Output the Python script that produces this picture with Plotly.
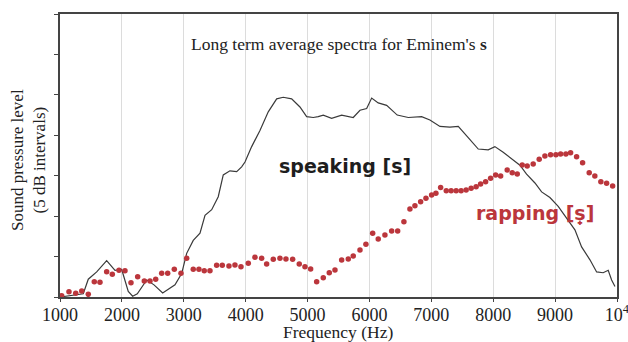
import plotly.graph_objects as go

# Long-term average spectrum of the /s/ sound, speaking vs rapping (dB, 5 dB per tick)
speaking_freq = [1000, 1376, 1457, 1593, 1754, 1889, 1997, 2103, 2174, 2249, 2401, 2519,
                 2659, 2858, 2966, 3047, 3153, 3262, 3343, 3451, 3557, 3638, 3746, 3855,
                 3935, 3989, 4097, 4231, 4365, 4501, 4607, 4743, 4877, 4985, 5092, 5173,
                 5254, 5389, 5551, 5738, 5847, 5955, 6036, 6142, 6278, 6449, 6627, 6843,
                 6977, 7139, 7300, 7435, 7596, 7758, 7919, 8027, 8161, 8270, 8350, 8431,
                 8539, 8674, 8782, 8916, 9050, 9186, 9320, 9428, 9563, 9671, 9777, 9858,
                 9913, 9967]
speaking_db = [0.0, 0.4, 2.2, 3.1, 4.5, 3.3, 3.4, 0.7, 0.1, 0.4, 2.1, 1.5,
               0.5, 1.5, 2.9, 5.4, 7.0, 7.9, 10.1, 10.8, 12.4, 15.1, 15.6, 15.5,
               16.1, 16.7, 18.6, 20.6, 22.9, 24.5, 24.7, 24.5, 23.5, 22.3, 22.2, 22.3,
               22.5, 22.1, 22.5, 22.2, 23.1, 23.3, 24.6, 24.0, 23.7, 22.5, 22.2, 22.3,
               21.9, 21.1, 21.0, 21.1, 19.7, 18.3, 18.2, 18.6, 17.9, 17.3, 16.8, 16.3,
               15.2, 14.1, 13.0, 12.3, 11.2, 9.7, 8.3, 6.2, 4.6, 3.1, 3.0, 3.3,
               2.1, 1.3]

rapping_freq = [1027, 1145, 1254, 1351, 1457, 1554, 1646, 1754, 1845, 1953, 2050, 2147,
                2255, 2362, 2454, 2546, 2643, 2740, 2847, 2955, 3047, 3153, 3245, 3331,
                3423, 3531, 3622, 3730, 3827, 3924, 4042, 4150, 4258, 4339, 4446, 4554,
                4651, 4759, 4866, 4958, 5050, 5147, 5254, 5351, 5443, 5551, 5658, 5738,
                5847, 5943, 6052, 6142, 6250, 6359, 6456, 6557, 6654, 6735, 6827, 6913,
                7005, 7074, 7150, 7241, 7320, 7401, 7481, 7562, 7643, 7724, 7796, 7877,
                7958, 8039, 8120, 8226, 8307, 8388, 8468, 8549, 8646, 8743, 8835, 8927,
                9013, 9089, 9174, 9250, 9347, 9444, 9551, 9642, 9739, 9832, 9929]
rapping_db = [0.16, 0.66, 0.46, 0.74, 0.33, 1.89, 1.82, 3.13, 2.81, 3.30, 3.25, 1.77,
              2.51, 1.98, 1.98, 2.19, 2.93, 2.93, 3.43, 2.93, 4.79, 3.43, 3.43, 3.25,
              3.25, 3.92, 3.92, 3.83, 3.96, 3.75, 4.17, 4.91, 4.79, 4.08, 4.66, 4.79,
              4.70, 4.66, 4.08, 3.75, 3.46, 1.89, 2.39, 3.01, 3.34, 4.58, 4.70, 5.07,
              5.81, 6.52, 7.88, 7.17, 7.67, 8.16, 8.16, 9.31, 10.88, 11.29, 11.79, 12.21,
              12.61, 12.82, 13.54, 13.13, 13.13, 13.13, 13.13, 13.23, 13.44, 13.64, 13.97, 14.26,
              14.68, 15.09, 14.96, 15.71, 15.37, 15.21, 16.32, 16.20, 16.45, 17.03, 17.44, 17.60,
              17.60, 17.68, 17.68, 17.85, 17.35, 16.61, 15.37, 14.96, 14.26, 14.06, 13.73]

x_ticks = [1000, 2000, 3000, 4000, 5000, 6000, 7000, 8000, 9000, 10000]
x_tick_text = ["1000", "2000", "3000", "4000", "5000", "6000", "7000", "8000", "9000",
               "10<sup>4</sup>"]
y_ticks = [0, 5, 10, 15, 20, 25, 30, 35]

SERIF = "Liberation Serif, Times New Roman, serif"
SANS = "DejaVu Sans, sans-serif"
RED = "#bb363c"

# plot area in pixels: x 60..617, y 14..297
L, R, T, B = 60, 617, 14, 297
W, H = R - L, B - T


def px(x):
    return (x - L) / W


def py(y):
    return (B - y) / H


fig = go.Figure()
fig.add_trace(go.Scatter(x=speaking_freq, y=speaking_db, mode="lines",
                         line=dict(color="#3a3a3a", width=1.2), showlegend=False))
fig.add_trace(go.Scatter(x=rapping_freq, y=rapping_db, mode="markers",
                         marker=dict(color=RED, size=5.5, line=dict(width=0)),
                         showlegend=False))

fig.update_layout(
    width=628, height=342,
    margin=dict(l=L, r=628 - R, t=T, b=342 - B),
    paper_bgcolor="white", plot_bgcolor="white",
    font=dict(family=SERIF, color="#222"),
    xaxis=dict(range=[1000, 10000], tickvals=x_ticks, ticktext=x_tick_text,
               automargin=False, ticklabeloverflow="allow", ticklabelstandoff=-3,
               showgrid=True, gridcolor="#dcdcdc", gridwidth=1,
               showline=True, mirror=True, linecolor="#444", linewidth=2,
               ticks="outside", ticklen=3, tickcolor="#444",
               tickfont=dict(family=SERIF, size=18, color="#222"), zeroline=False),
    yaxis=dict(range=[0, 35], tickvals=y_ticks, showticklabels=False, automargin=False,
               showgrid=False, showline=True, mirror=True, linecolor="#444", linewidth=2,
               ticks="outside", ticklen=4, tickcolor="#444", zeroline=False),
    annotations=[
        dict(text="Long term average spectra for Eminem's <b>s</b>", xref="paper", yref="paper",
             x=px(339), y=py(44), xanchor="center", yanchor="middle", showarrow=False,
             font=dict(family=SERIF, size=17.5, color="#222")),
        dict(text="Sound pressure level<br>(5 dB intervals)", xref="paper", yref="paper",
             x=px(28), y=py(160), xanchor="center", yanchor="middle", textangle=-90,
             showarrow=False, font=dict(family=SERIF, size=17, color="#222")),
        dict(text="Frequency (Hz)", xref="paper", yref="paper",
             x=px(338), y=py(332), xanchor="center", yanchor="middle", showarrow=False,
             font=dict(family=SERIF, size=17.5, color="#222")),
        dict(text="<b>speaking [s]</b>", xref="paper", yref="paper",
             x=px(345), y=py(166), xanchor="center", yanchor="middle",
             showarrow=False, font=dict(family=SANS, size=19, color="#1e1e1e")),
        dict(text="<b>rapping [s\u031f]</b>", xref="paper", yref="paper",
             x=px(535), y=py(213), xanchor="center", yanchor="middle",
             showarrow=False, font=dict(family=SANS, size=19, color=RED)),
    ],
)

fig.write_html("out.html")
